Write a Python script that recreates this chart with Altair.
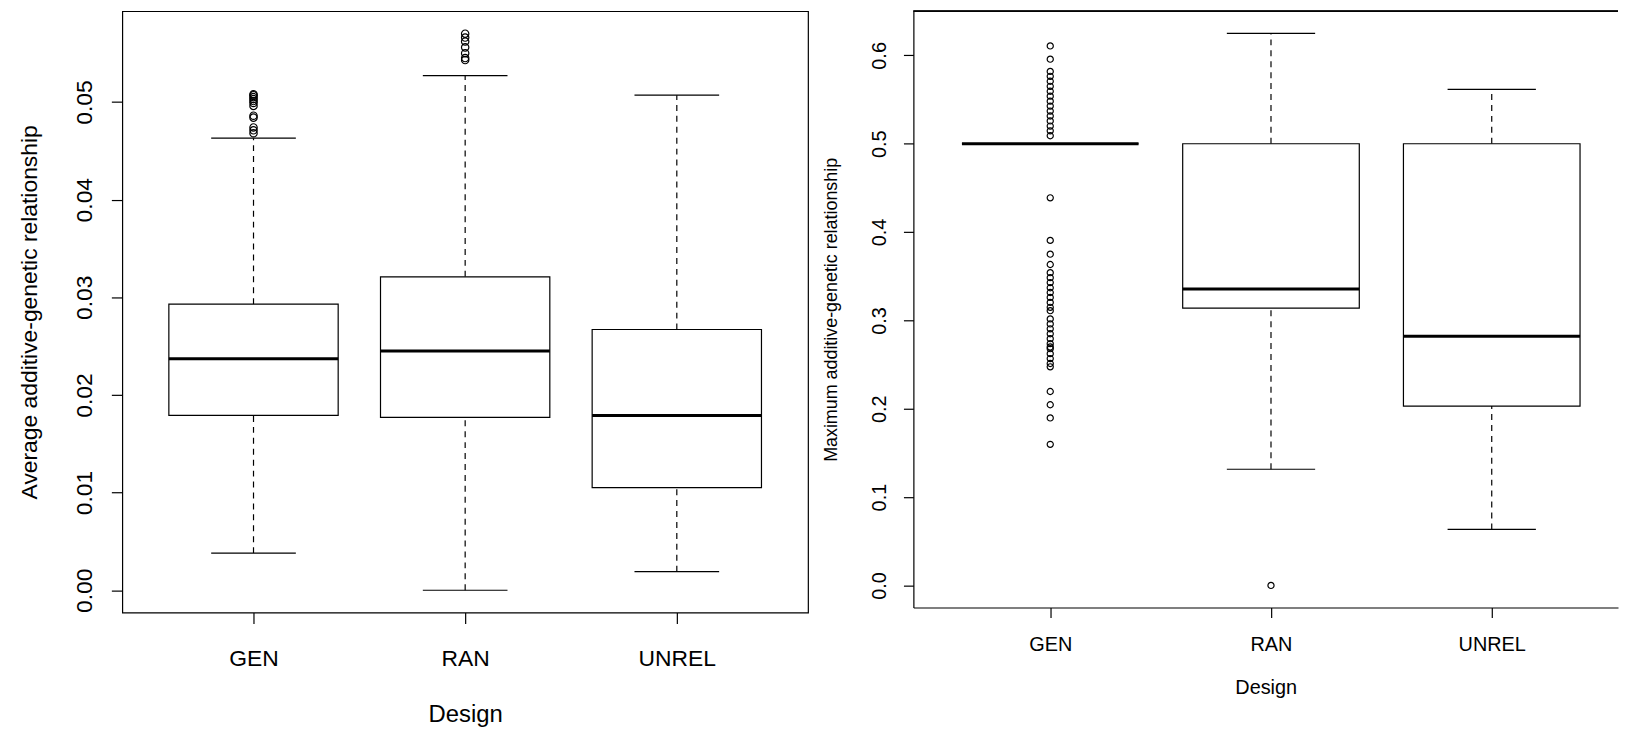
import altair as alt
import pandas as pd

designs = ["GEN", "RAN", "UNREL"]

# Left panel: average additive-genetic relationship (box statistics)
avg_lower = [0.0038, 0.0000, 0.0019]
avg_q1 = [0.0179, 0.0177, 0.0105]
avg_median = [0.0237, 0.0245, 0.0179]
avg_q3 = [0.0293, 0.0321, 0.0267]
avg_upper = [0.0463, 0.0527, 0.0507]
avg_out_gen = [0.0468, 0.0471, 0.0474, 0.0484, 0.0486, 0.0496, 0.0499,
               0.0501, 0.0503, 0.0505, 0.0507, 0.0508]
avg_out_ran = [0.0543, 0.0545, 0.0550, 0.0556, 0.0562, 0.0566, 0.0570]

# Right panel: maximum additive-genetic relationship (box statistics)
max_lower = [0.5, 0.1315, 0.0635]
max_q1 = [0.5, 0.314, 0.203]
max_median = [0.5, 0.3355, 0.282]
max_q3 = [0.5, 0.5, 0.5]
max_upper = [0.5, 0.625, 0.5615]
max_out_gen = [0.6107, 0.5957, 0.5819, 0.5763, 0.5707, 0.5650, 0.5594, 0.5538,
               0.5482, 0.5426, 0.5370, 0.5314, 0.5258, 0.5200, 0.5146, 0.5090,
               0.4388, 0.3906, 0.3750, 0.3633, 0.3540, 0.3484, 0.3428, 0.3370,
               0.3316, 0.3260, 0.3204, 0.3148, 0.3110, 0.3017, 0.2960, 0.2905,
               0.2849, 0.2793, 0.2737, 0.2700, 0.2680, 0.2624, 0.2568, 0.2512,
               0.2475, 0.2195, 0.2045, 0.1896, 0.1597]
max_out_ran = [0.0]

FONT = "Liberation Sans"


def box_frame(lower, q1, med, q3, upper):
    return pd.DataFrame({
        "design": designs,
        "pos": list(range(1, len(designs) + 1)),
        "lower": lower, "q1": q1, "median": med, "q3": q3, "upper": upper,
    })


def out_frame(groups):
    rows = []
    for name, vals in groups.items():
        for v in vals:
            rows.append({"design": name, "pos": designs.index(name) + 1, "value": v})
    return pd.DataFrame(rows)


label_expr = " : ".join(
    [f"datum.value == {i + 1} ? '{d}'" for i, d in enumerate(designs)] + ["''"]
)


def panel(box_df, out_df, *, width, height, xdom, ydom, yvals, yfmt, ytitle,
          tick, lab_font, lab_pad_x, lab_pad_y, title_font, ytitle_font,
          ytitle_x, xtitle_y, pt_size, framed):
    xs = alt.Scale(domain=xdom, nice=False, zero=False)
    ys = alt.Scale(domain=ydom, nice=False, zero=False)
    xa = alt.Axis(values=[1, 2, 3], labelExpr=label_expr, title="Design",
                  grid=False, domain=not framed, domainColor="black",
                  domainWidth=1.2, tickColor="black", tickWidth=1.2,
                  tickSize=tick, labelFont=FONT,
                  labelFontSize=lab_font, labelColor="black",
                  labelPadding=lab_pad_x, titleFont=FONT,
                  titleFontSize=title_font, titleFontWeight="normal",
                  titleColor="black", titleY=xtitle_y,
                  titleBaseline="middle")
    ya = alt.Axis(values=yvals, format=yfmt, title=ytitle, grid=False,
                  domain=not framed, domainColor="black", domainWidth=1.2,
                  tickColor="black", tickWidth=1.2,
                  tickSize=tick, labelFont=FONT, labelFontSize=lab_font,
                  labelColor="black", labelAngle=270, labelAlign="center",
                  labelBaseline="bottom", labelPadding=lab_pad_y,
                  titleFont=FONT, titleFontSize=ytitle_font,
                  titleFontWeight="normal", titleColor="black", titleAngle=270,
                  titleX=ytitle_x, titleY=height / 2, titleAlign="center",
                  titleBaseline="middle")

    def X(f):
        return alt.X(f, type="quantitative", scale=xs, axis=xa)

    def Y(f):
        return alt.Y(f, type="quantitative", scale=ys, axis=ya)

    base = alt.Chart(box_df).transform_calculate(
        box_lo="datum.pos - 0.4", box_hi="datum.pos + 0.4",
        cap_lo="datum.pos - 0.2", cap_hi="datum.pos + 0.2",
    )
    dash = [6, 5]
    w_up = base.mark_rule(color="black", strokeDash=dash, strokeWidth=1.2).encode(
        x=X("pos"), y=Y("q3"), y2="upper")
    w_lo = base.mark_rule(color="black", strokeDash=dash, strokeWidth=1.2).encode(
        x=X("pos"), y=Y("lower"), y2="q1")
    c_up = base.mark_rule(color="black", strokeWidth=1.2).encode(
        x=X("cap_lo"), x2="cap_hi", y=Y("upper"))
    c_lo = base.mark_rule(color="black", strokeWidth=1.2).encode(
        x=X("cap_lo"), x2="cap_hi", y=Y("lower"))
    box = base.mark_rect(fill="white", stroke="black", strokeWidth=1.2).encode(
        x=X("box_lo"), x2="box_hi", y=Y("q1"), y2="q3")
    med = base.mark_rule(color="black", strokeWidth=3).encode(
        x=X("box_lo"), x2="box_hi", y=Y("median"))
    pts = alt.Chart(out_df).mark_point(
        shape="circle", filled=False, color="black", size=pt_size,
        strokeWidth=1.2, opacity=1).encode(x=X("pos"), y=Y("value"))
    layers = [w_up, w_lo, c_up, c_lo, box, med, pts]
    if not framed:
        top = alt.Chart(box_df).mark_rule(color="black", strokeWidth=1.2).encode(
            x=alt.value(0), x2=alt.value(width), y=alt.value(0))
        layers.append(top)
    ch = alt.layer(*layers).properties(width=width, height=height)
    if framed:
        ch = ch.properties(view=alt.ViewBackground(stroke="black", strokeWidth=1.2))
    else:
        ch = ch.properties(view=alt.ViewBackground(stroke=None))
    return ch


left = panel(
    box_frame(avg_lower, avg_q1, avg_median, avg_q3, avg_upper),
    out_frame({"GEN": avg_out_gen, "RAN": avg_out_ran}),
    width=690, height=605, xdom=[0.38, 3.62], ydom=[-0.00228, 0.0593],
    yvals=[0, 0.01, 0.02, 0.03, 0.04, 0.05], yfmt=".2f",
    ytitle="Average additive-genetic relationship", tick=11, lab_font=23,
    lab_pad_x=24, lab_pad_y=15, title_font=24, ytitle_font=23,
    ytitle_x=-93, xtitle_y=103, pt_size=55, framed=True,
)

right = panel(
    box_frame(max_lower, max_q1, max_median, max_q3, max_upper),
    out_frame({"GEN": max_out_gen, "RAN": max_out_ran}),
    width=709, height=600, xdom=[0.38, 3.572], ydom=[-0.025, 0.65],
    yvals=[0, 0.1, 0.2, 0.3, 0.4, 0.5, 0.6], yfmt=".1f",
    ytitle="Maximum additive-genetic relationship", tick=10, lab_font=20,
    lab_pad_x=17, lab_pad_y=14, title_font=20, ytitle_font=18,
    ytitle_x=-82, xtitle_y=81, pt_size=38, framed=False,
)

chart = alt.hconcat(left, right, spacing=14).properties(
    padding={"left": 10, "top": 0, "right": 0, "bottom": 0},
    background="white",
)

chart.save("out.html", embed_options={"renderer": "svg", "actions": False})
